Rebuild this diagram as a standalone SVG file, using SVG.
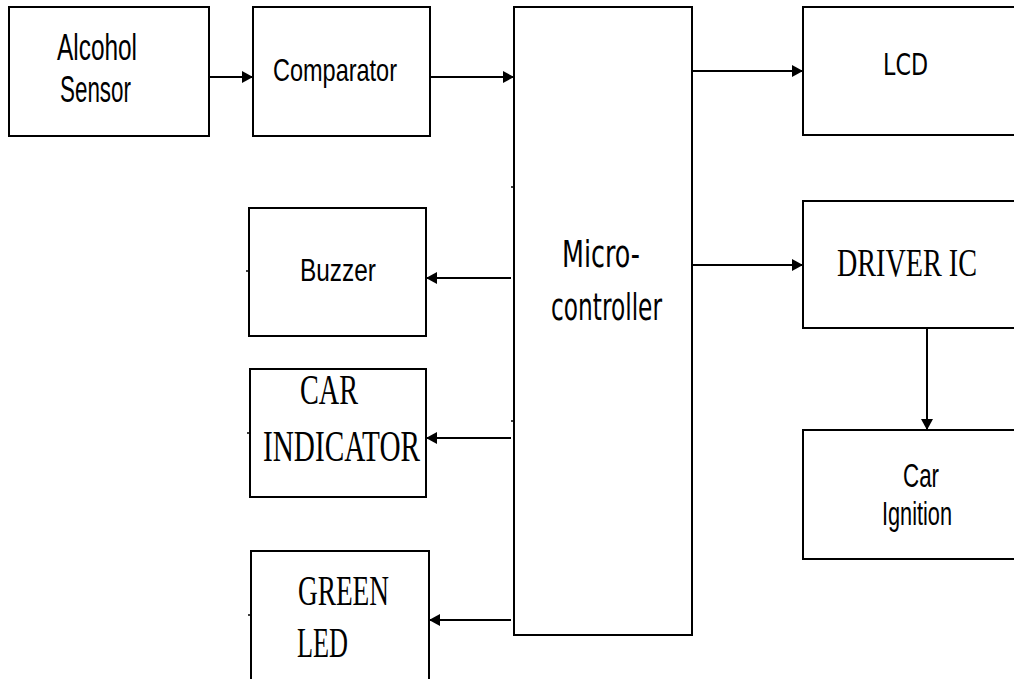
<svg xmlns="http://www.w3.org/2000/svg" width="1014" height="679" viewBox="0 0 1014 679">
<defs>
<marker id="ah" viewBox="0 0 11 12" refX="11" refY="6" markerWidth="11" markerHeight="12" markerUnits="userSpaceOnUse" orient="auto">
<path d="M0,0 L11,6 L0,12 Z" fill="#000"/>
</marker>
<style>
.box{fill:#fff;stroke:#000;stroke-width:2}
.tick{stroke:#000;stroke-width:1.5}
.sans{font-family:"Liberation Sans",Arial,sans-serif;fill:#000}
.thin{font-family:"DejaVu Sans","Liberation Sans",sans-serif;fill:#000}
.serif{font-family:"Liberation Serif","Times New Roman",serif;fill:#000}
.con line{stroke:#000;stroke-width:2;marker-end:url(#ah)}
</style>
</defs>
<rect width="1014" height="679" fill="#fff"/>
<g id="alcohol-sensor">
<rect class="box" x="9" y="7" width="200" height="129"/>
<text class="sans" x="57" y="60" font-size="36" textLength="80" lengthAdjust="spacingAndGlyphs">Alcohol</text>
<text class="sans" x="60" y="102" font-size="36" textLength="71" lengthAdjust="spacingAndGlyphs">Sensor</text>
</g>
<g id="comparator">
<rect class="box" x="253" y="7" width="177" height="129"/>
<text class="sans" x="273" y="81" font-size="32" textLength="124" lengthAdjust="spacingAndGlyphs">Comparator</text>
</g>
<g id="microcontroller">
<rect class="box" x="514" y="7" width="178" height="628"/>
<text class="thin" x="562" y="267" font-size="38" textLength="78" lengthAdjust="spacingAndGlyphs">Micro-</text>
<text class="thin" x="551" y="320" font-size="38" textLength="111" lengthAdjust="spacingAndGlyphs">controller</text>
<line class="tick" x1="511" y1="187" x2="514" y2="187"/>
<line class="tick" x1="511" y1="421" x2="514" y2="421"/>
</g>
<g id="lcd">
<rect class="box" x="803" y="7" width="220" height="128"/>
<text class="thin" x="883" y="75" font-size="31" textLength="45" lengthAdjust="spacingAndGlyphs">LCD</text>
</g>
<g id="buzzer">
<rect class="box" x="249" y="208" width="177" height="128"/>
<line class="tick" x1="246" y1="271" x2="249" y2="271"/>
<text class="sans" x="300" y="281" font-size="31" textLength="76" lengthAdjust="spacingAndGlyphs">Buzzer</text>
</g>
<g id="driver-ic">
<rect class="box" x="803" y="201" width="220" height="127"/>
<text class="serif" transform="translate(837 276) scale(1 1.35)" x="0" y="0" font-size="29.6" textLength="140" lengthAdjust="spacingAndGlyphs">DRIVER IC</text>
</g>
<g id="car-indicator">
<rect class="box" x="250" y="369" width="176" height="128"/>
<line class="tick" x1="247" y1="433" x2="250" y2="433"/>
<text class="serif" x="300" y="404" font-size="42" textLength="58" lengthAdjust="spacingAndGlyphs">CAR</text>
<text class="serif" x="263" y="461" font-size="44" textLength="157" lengthAdjust="spacingAndGlyphs">INDICATOR</text>
</g>
<g id="car-ignition">
<rect class="box" x="803" y="430" width="220" height="129"/>
<text class="sans" x="903" y="487" font-size="34" textLength="36" lengthAdjust="spacingAndGlyphs">Car</text>
<text class="sans" x="882" y="525" font-size="34" textLength="70" lengthAdjust="spacingAndGlyphs">Ignition</text>
</g>
<g id="green-led">
<rect class="box" x="251" y="551" width="178" height="140"/>
<line class="tick" x1="248" y1="615" x2="251" y2="615"/>
<text class="serif" x="298" y="605" font-size="42" textLength="91" lengthAdjust="spacingAndGlyphs">GREEN</text>
<text class="serif" x="297" y="657" font-size="42" textLength="51" lengthAdjust="spacingAndGlyphs">LED</text>
</g>
<g id="connectors" class="con">
<line x1="209" y1="77" x2="253" y2="77"/>
<line x1="430" y1="77" x2="514" y2="77"/>
<line x1="692" y1="71" x2="803" y2="71"/>
<line x1="692" y1="265" x2="803" y2="265"/>
<line x1="927" y1="328" x2="927" y2="430"/>
<line x1="511" y1="278" x2="426" y2="278"/>
<line x1="511" y1="438" x2="426" y2="438"/>
<line x1="511" y1="620" x2="429" y2="620"/>
</g>
</svg>
